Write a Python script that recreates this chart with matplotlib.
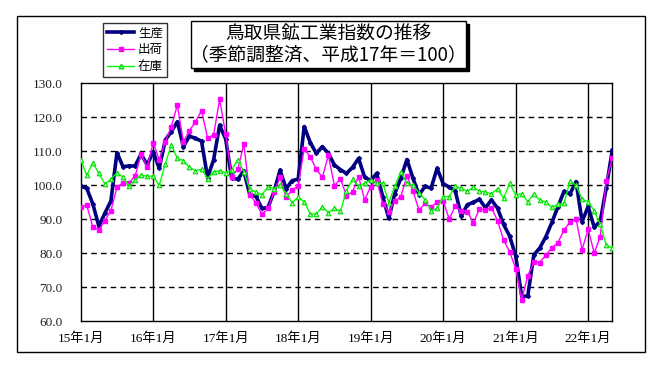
import matplotlib
matplotlib.use("Agg")
import matplotlib.pyplot as plt
from matplotlib.patches import Rectangle
from matplotlib.lines import Line2D
import numpy as np

plt.rcParams['font.family'] = ['Noto Sans CJK JP', 'DejaVu Sans']

title_lines = ["鳥取県鉱工業指数の推移", "（季節調整済、平成17年＝100）"]
series_names = ["生産", "出荷", "在庫"]
year_labels = ["15年1月", "16年1月", "17年1月", "18年1月", "19年1月", "20年1月", "21年1月", "22年1月"]
y_ticks = [60, 70, 80, 90, 100, 110, 120, 130]

production = [
    99.7, 99.0, 94.5, 87.9, 91.7, 95.3, 109.5, 105.4, 105.6, 105.6, 109.1, 105.9,
    109.8, 104.9, 113.2, 115.7, 118.6, 111.3, 114.4, 113.7, 112.9, 102.2, 107.4, 117.6,
    113.5, 102.0, 101.7, 104.1, 97.1, 96.7, 93.1, 93.4, 98.0, 104.4, 98.9, 101.3,
    101.7, 117.2, 112.5, 109.3, 111.3, 109.3, 105.9, 104.5, 103.4, 105.2, 107.8, 102.3,
    101.3, 103.4, 96.6, 90.2, 97.5, 102.0, 107.5, 102.0, 97.1, 99.6, 99.1, 104.9,
    100.4, 99.4, 98.3, 90.9, 94.2, 94.9, 95.8, 93.3, 95.6, 93.2, 88.4, 85.0,
    79.2, 67.3, 67.3, 79.4, 81.5, 84.8, 89.0, 93.6, 98.1, 97.4, 101.0, 89.2,
    93.7, 87.6, 89.3, 99.2, 110.2,
]
shipments = [
    93.4, 94.1, 87.7, 86.8, 89.5, 92.5, 99.3, 100.7, 100.7, 102.6, 109.0, 105.2,
    112.5, 107.4, 112.7, 117.2, 123.5, 112.7, 116.0, 118.6, 121.9, 113.9, 114.7, 125.2,
    114.9, 102.5, 104.6, 112.0, 97.1, 94.8, 91.4, 93.1, 98.0, 102.3, 96.4, 98.5,
    99.7, 110.7, 108.3, 104.6, 102.3, 108.7, 99.8, 101.8, 96.9, 98.0, 102.5, 95.6,
    99.5, 101.5, 94.4, 92.2, 95.3, 96.6, 102.7, 98.3, 92.6, 94.6, 93.4, 95.0,
    95.3, 90.0, 93.8, 92.4, 92.2, 88.8, 93.0, 92.6, 93.3, 89.5, 83.8, 80.4,
    75.4, 66.3, 73.2, 77.4, 77.2, 79.4, 81.6, 83.0, 86.8, 89.1, 90.0, 81.0,
    87.0, 80.0, 84.8, 101.3, 107.8,
]
inventory = [
    107.5, 102.8, 106.6, 103.4, 100.3, 101.7, 103.6, 102.3, 99.7, 101.5, 102.9, 102.6,
    102.6, 99.9, 106.2, 111.8, 107.8, 107.2, 105.2, 104.2, 104.6, 101.9, 103.9, 104.2,
    103.6, 104.4, 107.5, 103.9, 98.7, 98.0, 97.1, 99.5, 98.9, 100.0, 97.5, 94.8,
    96.4, 95.1, 91.5, 91.5, 93.6, 91.9, 93.1, 92.3, 98.3, 101.7, 99.7, 100.5,
    101.5, 100.5, 100.5, 94.8, 99.7, 103.9, 100.5, 100.0, 97.7, 95.6, 92.5, 93.1,
    96.6, 96.6, 99.6, 99.0, 98.1, 99.4, 98.2, 97.9, 97.4, 98.9, 96.1, 100.5,
    97.1, 97.4, 95.1, 97.3, 95.6, 95.0, 93.4, 94.3, 94.6, 101.2, 99.9, 95.8,
    95.1, 92.4, 88.5, 82.4, 81.4,
]

W, H = 671, 371
fig = plt.figure(figsize=(W / 100, H / 100), dpi=100)

def fx(px):
    return px / W

def fy(py):
    return 1 - py / H

ax_l, ax_r, ax_t, ax_b = 80.7, 612.3, 83, 321
ax = fig.add_axes([fx(ax_l), fy(ax_b), fx(ax_r - ax_l), (ax_b - ax_t) / H])

x = np.arange(len(production))
ax.plot(x, production, color='#000080', lw=2.6, marker='D', ms=2.0, zorder=3, label=series_names[0])
ax.plot(x, shipments, color='#FF00FF', lw=1.0, marker='s', ms=3.3, zorder=4, label=series_names[1])
ax.plot(x, inventory, color='#00FF00', lw=1.0, marker='^', ms=3.3, mfc='#b8ffb8', mec='#00dd00', mew=0.8,
        zorder=5, label=series_names[2])

ax.set_xlim(0, len(production) - 1)
ax.set_ylim(60, 130)
ax.set_yticks(y_ticks)
ax.set_yticklabels([f"{v:.1f}" for v in y_ticks], family=['Liberation Serif', 'Noto Sans CJK JP'],
                   fontsize=9.5, color='#222222')
xt = np.arange(0, len(production), 12)
ax.set_xticks(xt)
ax.set_xticklabels(year_labels, family=['Liberation Serif', 'Noto Sans CJK JP'], fontsize=9.5)
ax.tick_params(axis='both', length=0)
ax.tick_params(axis='y', pad=13)
ax.tick_params(axis='x', pad=8)

for v in y_ticks[1:-1]:
    ax.axhline(v, color='black', lw=1.0, ls=(0, (4, 3)), zorder=1)
for t in xt[1:]:
    ax.axvline(t, color='black', lw=1.0, zorder=1)
for s in ax.spines.values():
    s.set_color('black')
    s.set_linewidth(1.0)

# outer border
fig.patches.append(Rectangle((fx(17), fy(352)), fx(645 - 17), (352 - 16) / H, transform=fig.transFigure,
                             fill=False, edgecolor='black', lw=1.0))

# title box with shadow
tb_l, tb_r, tb_t, tb_b = 191, 466, 21, 68
fig.patches.append(Rectangle((fx(tb_l + 3), fy(tb_b + 3)), fx(tb_r - tb_l), (tb_b - tb_t) / H,
                             transform=fig.transFigure, facecolor='black', edgecolor='black', lw=1.0))
fig.patches.append(Rectangle((fx(tb_l), fy(tb_b)), fx(tb_r - tb_l), (tb_b - tb_t) / H,
                             transform=fig.transFigure, facecolor='white', edgecolor='black', lw=1.0))
fig.text(fx((tb_l + tb_r) / 2), fy(34.5), title_lines[0], ha='center', va='center', fontsize=13.5)
fig.text(fx((tb_l + tb_r) / 2), fy(55), title_lines[1], ha='center', va='center', fontsize=13.5)

# legend
handles = [
    Line2D([], [], color='#000080', lw=2.6, marker='D', ms=2.0),
    Line2D([], [], color='#FF00FF', lw=1.0, marker='s', ms=3.3),
    Line2D([], [], color='#00FF00', lw=1.0, marker='^', ms=3.3, mfc='#b8ffb8', mec='#00dd00'),
]
leg = fig.legend(handles, series_names, loc='upper left', bbox_to_anchor=(fx(103), fy(22.7)),
                 frameon=True, fancybox=False, edgecolor='black', fontsize=9, handlelength=2.2,
                 handletextpad=0.3, labelspacing=0.3, borderpad=0.3, borderaxespad=0)
leg.get_frame().set_linewidth(1.0)

fig.savefig("out.png", dpi=100)
